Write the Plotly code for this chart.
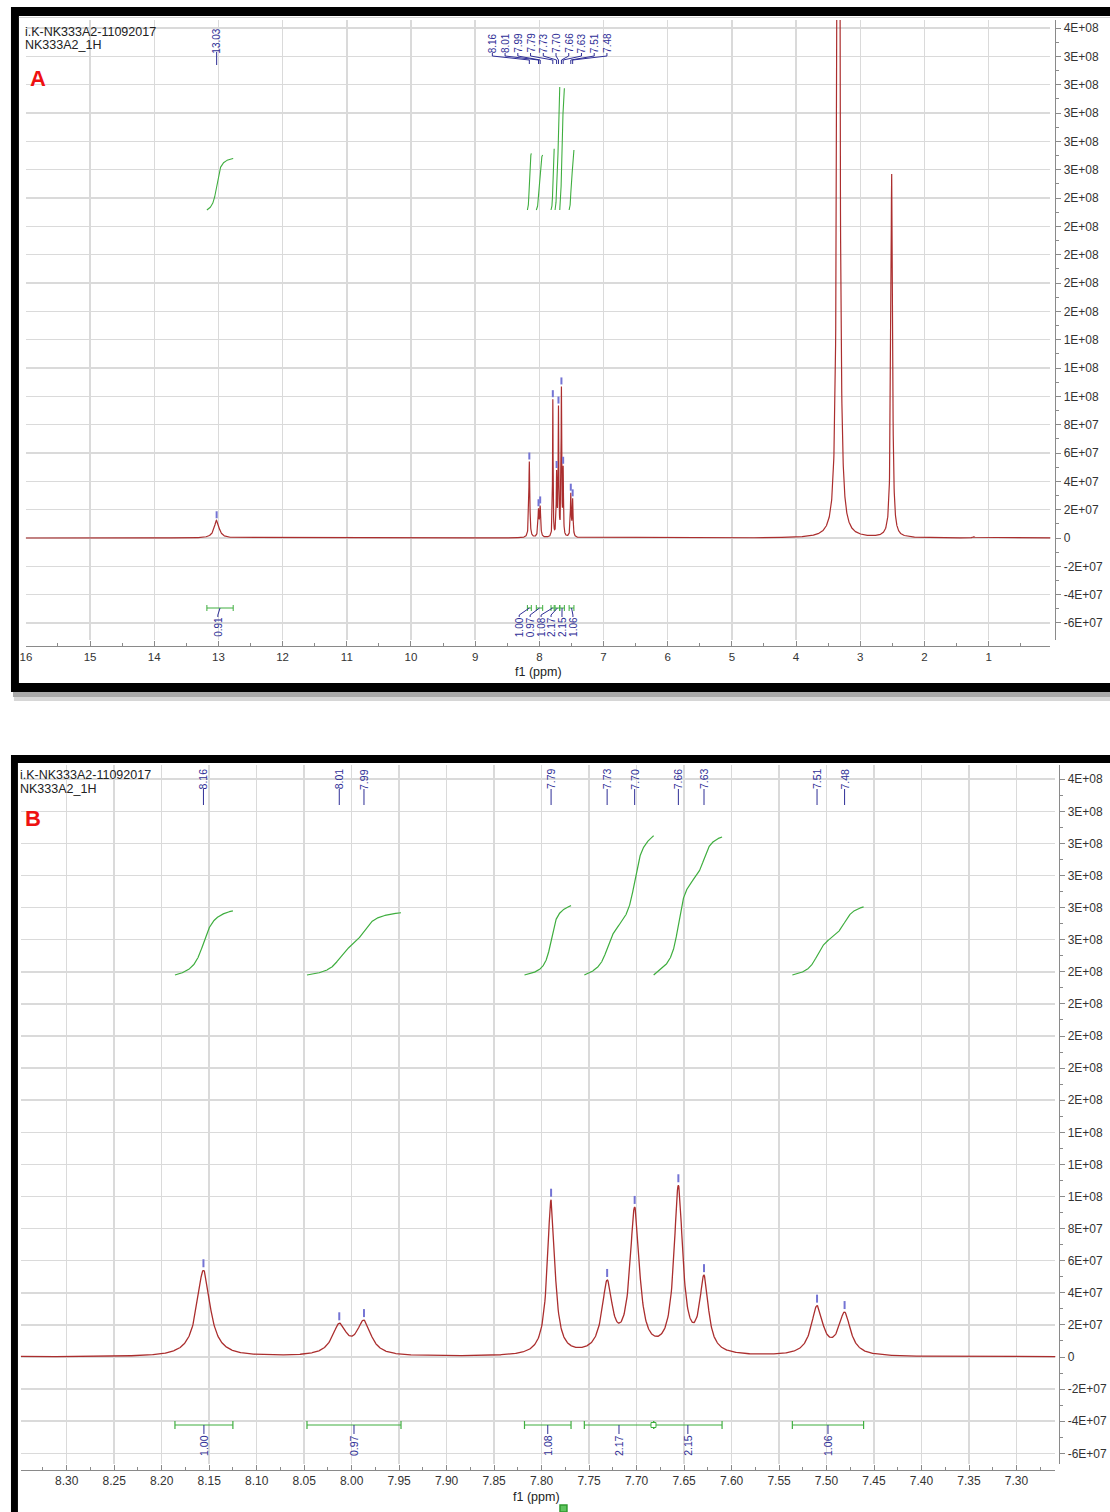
import numpy as np
import plotly.graph_objects as go

FIG_W, FIG_H = 1110, 1512

# ---------------- spectrum data ----------------
# picked signals: chemical shift (ppm), apex intensity, line width (FWHM, ppm)
signal_ppm = [13.028, 8.156, 8.013, 7.987, 7.790, 7.731, 7.702, 7.656, 7.629, 7.510, 7.481]
signal_height = [1.25e7, 5.4e7, 2.1e7, 2.3e7, 9.8e7, 4.8e7, 9.35e7, 1.07e8, 5.1e7, 3.2e7, 2.8e7]
signal_fwhm = [0.090, 0.017, 0.018, 0.018, 0.0095, 0.013, 0.012, 0.011, 0.011, 0.015, 0.015]

# solvent / water lines (not picked)
solvent_ppm = [3.34, 2.73, 2.51, 1.23]
solvent_height = [1.0e9, 2.0e6, 2.57e8, 1.0e6]
solvent_fwhm = [0.035, 0.030, 0.030, 0.030]

# integral regions (ppm) and normalised integrals
integral_from = [13.18, 8.186, 8.047, 7.818, 7.755, 7.682, 7.536]
integral_to = [12.77, 8.125, 7.948, 7.769, 7.682, 7.610, 7.461]
integral_value = [0.91, 1.00, 0.97, 1.08, 2.17, 2.15, 1.06]

# intensity axis ticks
y_tick_vals = [-6e7, -4e7, -2e7, 0, 2e7, 4e7, 6e7, 8e7, 1.0e8, 1.2e8, 1.4e8, 1.6e8, 1.8e8,
               2.0e8, 2.2e8, 2.4e8, 2.6e8, 2.8e8, 3.0e8, 3.2e8, 3.4e8, 3.6e8]
y_tick_text = ["-6E+07", "-4E+07", "-2E+07", "0", "2E+07", "4E+07", "6E+07", "8E+07",
               "1E+08", "1E+08", "1E+08", "2E+08", "2E+08", "2E+08", "2E+08", "2E+08",
               "3E+08", "3E+08", "3E+08", "3E+08", "3E+08", "4E+08"]

# shift axis ticks
a_tick_vals = [1, 2, 3, 4, 5, 6, 7, 8, 9, 10, 11, 12, 13, 14, 15, 16]
a_tick_text = ["1", "2", "3", "4", "5", "6", "7", "8", "9", "10", "11", "12", "13", "14", "15", "16"]
b_tick_vals = [7.30, 7.35, 7.40, 7.45, 7.50, 7.55, 7.60, 7.65, 7.70, 7.75, 7.80,
               7.85, 7.90, 7.95, 8.00, 8.05, 8.10, 8.15, 8.20, 8.25, 8.30]
b_tick_text = ["7.30", "7.35", "7.40", "7.45", "7.50", "7.55", "7.60", "7.65", "7.70", "7.75", "7.80",
               "7.85", "7.90", "7.95", "8.00", "8.05", "8.10", "8.15", "8.20", "8.25", "8.30"]

# ---------------- colours / geometry ----------------
SPEC = "#ab2e2e"
INTEG = "#3fae3f"
PICK = "#2e2e96"
TICKMARK = "#7474d4"
GRID = "#dadada"
AXIS = "#8a8a8a"
FONT = "Liberation Sans"

# panel A (full spectrum) pixel geometry
A_L, A_R, A_T, A_B = 20, 1050, 20, 640
A_PPM0, A_PXPPM = 16.0, 64.53
A_ZERO, A_PX2E7 = 538.0, 28.33
# panel B (aromatic expansion) pixel geometry
B_L, B_R, B_T, B_B = 15, 1055, 765, 1464
B_REFPPM, B_REFPX, B_PXPPM = 8.30, 61.0, 955.0
B_ZERO, B_PX2E7 = 1357.0, 32.1


def a_ppm(px):
    return A_PPM0 - (px - A_L) / A_PXPPM


def b_ppm(px):
    return B_REFPPM - (px - B_REFPX) / B_PXPPM


def a_val(py):
    return (A_ZERO - py) / A_PX2E7 * 2e7


def b_val(py):
    return (B_ZERO - py) / B_PX2E7 * 2e7


def yp(py):
    return 1 - py / FIG_H


def xp(px):
    return px / FIG_W


# ---------------- lineshape ----------------
all_ppm = np.array(signal_ppm + solvent_ppm)
all_h = np.array(signal_height + solvent_height)
all_w = np.array(signal_fwhm + solvent_fwhm)


def lorentz(x, c, w):
    g = w / 2.0
    return g * g / ((x - c) ** 2 + g * g)


# amplitudes so that the summed curve reaches each apex height
M = lorentz(all_ppm[:, None], all_ppm[None, :], all_w[None, :])
amp = np.linalg.solve(M, all_h)


def spectrum(x):
    x = np.asarray(x, dtype=float)
    out = np.zeros_like(x)
    for a, c, w in zip(amp, all_ppm, all_w):
        out += a * lorentz(x, c, w)
    return out


ppm_a = np.unique(np.concatenate([np.arange(0.0, 16.3, 0.002), all_ppm]))
ppm_b = np.unique(np.concatenate([np.arange(7.20, 8.40, 0.0005), all_ppm]))
int_a = spectrum(ppm_a)
int_b = spectrum(ppm_b)

fig = go.Figure()
fig.add_trace(go.Scatter(x=ppm_a, y=int_a, xaxis="x", yaxis="y", mode="lines",
                         line=dict(color=SPEC, width=1.2), hoverinfo="skip", showlegend=False))
fig.add_trace(go.Scatter(x=ppm_b, y=int_b, xaxis="x2", yaxis="y2", mode="lines",
                         line=dict(color=SPEC, width=1.3), hoverinfo="skip", showlegend=False))

# integral curves
A_INT_BASE, B_INT_BASE, INT_SCALE = a_val(210), b_val(975), 4.0e7
for k, (f, t, v) in enumerate(zip(integral_from, integral_to, integral_value)):
    xs = np.linspace(f, t, 400)
    ys = spectrum(xs)
    cum = np.concatenate([[0], np.cumsum(0.5 * (ys[1:] + ys[:-1]) * np.abs(np.diff(xs)))])
    cum = cum / cum[-1]
    fig.add_trace(go.Scatter(x=xs, y=A_INT_BASE + v * INT_SCALE * cum, xaxis="x", yaxis="y",
                             mode="lines", line=dict(color=INTEG, width=1.1),
                             hoverinfo="skip", showlegend=False))
    if k > 0:
        fig.add_trace(go.Scatter(x=xs, y=B_INT_BASE + v * INT_SCALE * cum, xaxis="x2", yaxis="y2",
                                 mode="lines", line=dict(color=INTEG, width=1.2),
                                 hoverinfo="skip", showlegend=False))

# invisible carriers so the tick axes are drawn
fig.add_trace(go.Scatter(x=[8], y=[0], xaxis="x3", yaxis="y3", mode="markers",
                         marker=dict(opacity=0), hoverinfo="skip", showlegend=False))
fig.add_trace(go.Scatter(x=[7.8], y=[0], xaxis="x4", yaxis="y4", mode="markers",
                         marker=dict(opacity=0), hoverinfo="skip", showlegend=False))

shapes = []
annotations = []

# ---------------- frames ----------------
shapes += [
    dict(type="rect", xref="paper", yref="paper", x0=xp(8), x1=xp(1125), y0=yp(692), y1=yp(701),
         fillcolor="#d6d6d6", line=dict(width=0), layer="below"),
    dict(type="rect", xref="paper", yref="paper", x0=xp(7), x1=xp(1125), y0=yp(692), y1=yp(697),
         fillcolor="#a8a8a8", line=dict(width=0), layer="below"),
    dict(type="rect", xref="paper", yref="paper", x0=xp(5), x1=xp(1125), y0=yp(692), y1=yp(7),
         fillcolor="black", line=dict(width=0), layer="below"),
    dict(type="rect", xref="paper", yref="paper", x0=xp(13), x1=xp(1125), y0=yp(683), y1=yp(16),
         fillcolor="white", line=dict(width=0), layer="below"),
    dict(type="rect", xref="paper", yref="paper", x0=xp(5), x1=xp(1125), y0=yp(1600), y1=yp(755),
         fillcolor="black", line=dict(width=0), layer="below"),
    dict(type="rect", xref="paper", yref="paper", x0=xp(12), x1=xp(1125), y0=yp(1600), y1=yp(763),
         fillcolor="white", line=dict(width=0), layer="below"),
    dict(type="line", xref="paper", yref="paper", x0=xp(13), x1=xp(1125), y0=yp(17.5), y1=yp(17.5),
         line=dict(color="#d4d4d4", width=1), layer="below"),
]

# ---------------- titles ----------------
for (x0, y1, y2, ly, lab) in [(17, 32, 45, 78, "A"), (12, 775, 789, 818, "B")]:
    annotations.append(dict(xref="paper", yref="paper", x=xp(x0), y=yp(y1), text="i.K-NK333A2-11092017",
                            showarrow=False, xanchor="left", yanchor="middle",
                            font=dict(family=FONT, size=12.5, color="#222")))
    annotations.append(dict(xref="paper", yref="paper", x=xp(x0), y=yp(y2), text="NK333A2_1H",
                            showarrow=False, xanchor="left", yanchor="middle",
                            font=dict(family=FONT, size=12.5, color="#222")))
    annotations.append(dict(xref="paper", yref="paper", x=xp(x0 + 5), y=yp(ly), text="<b>%s</b>" % lab,
                            showarrow=False, xanchor="left", yanchor="middle",
                            font=dict(family=FONT, size=22, color="#ee1111")))

for lab_y, cx in [(672, 535), (1497, 533)]:
    annotations.append(dict(xref="paper", yref="paper", x=xp(cx), y=yp(lab_y), text="f1 (ppm)",
                            showarrow=False, xanchor="center", yanchor="middle",
                            font=dict(family=FONT, size=12.5, color="#222")))


def label(xref, x, py, text, size=10):
    annotations.append(dict(xref=xref, yref="paper", x=x, y=yp(py), text=text, textangle=-90,
                            showarrow=False, xanchor="center", yanchor="middle",
                            font=dict(family=FONT, size=size, color=PICK)))


def seg(xref, x0, py0, x1, py1, color=PICK, width=1):
    shapes.append(dict(type="line", xref=xref, yref="paper", x0=x0, x1=x1, y0=yp(py0), y1=yp(py1),
                       line=dict(color=color, width=width), layer="above"))


# ---------------- peak picking labels ----------------
# panel A: 13.03 alone, aromatic cluster fanned out
label("x", signal_ppm[0], 41, "%.2f" % signal_ppm[0])
seg("x", signal_ppm[0], 52, signal_ppm[0], 65)
for i, p in enumerate(signal_ppm[1:]):
    lx = a_ppm(489 + i * 12.8)
    label("x", lx, 43, "%.2f" % p)
    seg("x", lx, 53, lx, 56)
    seg("x", lx, 56, p, 60)
    seg("x", p, 60, p, 64)

# panel B: labels at their shifts
for p in signal_ppm[1:]:
    label("x2", p, 779, "%.2f" % p, size=10.5)
    seg("x2", p, 789, p, 805)

# apex markers
for p, h in zip(signal_ppm, signal_height):
    u = 2e7 / A_PX2E7
    shapes.append(dict(type="line", xref="x", yref="y", x0=p, x1=p, y0=h + 2 * u, y1=h + 9 * u,
                       line=dict(color=TICKMARK, width=2), layer="above"))
for p, h in zip(signal_ppm[1:], signal_height[1:]):
    u = 2e7 / B_PX2E7
    shapes.append(dict(type="line", xref="x2", yref="y2", x0=p, x1=p, y0=h + 3 * u, y1=h + 11 * u,
                       line=dict(color=TICKMARK, width=2), layer="above"))

# ---------------- integral brackets and values ----------------
a_int_label_px = [213, 516, 527, 538, 548, 559, 570]
for k, (f, t, v) in enumerate(zip(integral_from, integral_to, integral_value)):
    c = 0.5 * (f + t)
    # panel A
    seg("x", f, 608, t, 608, INTEG, 1)
    seg("x", f, 605, f, 611, INTEG, 1)
    seg("x", t, 605, t, 611, INTEG, 1)
    lx = a_ppm(a_int_label_px[k])
    seg("x", c, 608, lx, 615)
    seg("x", lx, 615, lx, 617)
    label("x", lx, 627, "%.2f" % v)
    # panel B
    if k > 0:
        seg("x2", f, 1425, t, 1425, INTEG, 1.2)
        seg("x2", f, 1421, f, 1429, INTEG, 1.2)
        seg("x2", t, 1421, t, 1429, INTEG, 1.2)
        seg("x2", c, 1425, c, 1434)
        label("x2", c, 1445, "%.2f" % v, size=10.5)

# small handles
shapes.append(dict(type="rect", xref="x2", yref="paper", x0=b_ppm(648.5), x1=b_ppm(653.5),
                   y0=yp(1427.5), y1=yp(1422.5), line=dict(color=INTEG, width=1), fillcolor="white",
                   layer="above"))
shapes.append(dict(type="rect", xref="paper", yref="paper", x0=xp(557), x1=xp(564),
                   y0=yp(1512), y1=yp(1505), line=dict(color="#2f9a2f", width=1.5), fillcolor="#5fc45f",
                   layer="above"))

# ---------------- axes ----------------
grid_common = dict(showgrid=True, gridcolor=GRID, gridwidth=1.5, zeroline=False, showline=False,
                   showticklabels=False, ticks="", fixedrange=True)
tick_font = dict(family=FONT, size=12, color="#333")

a_minor_x = [v + 0.5 for v in range(0, 16)]
b_minor_x = [round(7.275 + 0.05 * i, 3) for i in range(22)]
y_minor = [v + 1e7 for v in y_tick_vals[:-1]] + [3.7e8]

layout_axes = dict(
    xaxis=dict(domain=[xp(A_L), xp(A_R)], range=[A_PPM0, a_ppm(A_R)], anchor="y",
               tickmode="array", tickvals=a_tick_vals, **grid_common),
    yaxis=dict(domain=[yp(A_B), yp(A_T)], range=[a_val(A_B), a_val(A_T)], anchor="x",
               tickmode="array", tickvals=y_tick_vals, **grid_common),
    xaxis2=dict(domain=[xp(B_L), xp(B_R)], range=[b_ppm(B_L), b_ppm(B_R)], anchor="y2",
                tickmode="array", tickvals=b_tick_vals, **grid_common),
    yaxis2=dict(domain=[yp(B_B), yp(B_T)], range=[b_val(B_B), b_val(B_T)], anchor="x2",
                tickmode="array", tickvals=y_tick_vals, **grid_common),
    xaxis3=dict(overlaying="x", anchor="free", position=yp(646), side="bottom",
                range=[A_PPM0, a_ppm(A_R)], tickmode="array", tickvals=a_tick_vals, ticktext=a_tick_text,
                ticks="inside", ticklen=5, tickcolor=AXIS, showline=True, linecolor=AXIS, linewidth=1,
                showgrid=False, zeroline=False, tickfont=dict(family=FONT, size=11.5, color="#333"),
                fixedrange=True,
                minor=dict(tickvals=a_minor_x, ticks="inside", ticklen=3, tickcolor=AXIS, showgrid=False)),
    yaxis3=dict(overlaying="y", anchor="free", position=xp(1055), side="right",
                range=[a_val(A_B), a_val(A_T)], tickmode="array", tickvals=y_tick_vals, ticktext=y_tick_text,
                ticks="outside", ticklen=5, tickcolor=AXIS, showline=True, linecolor=AXIS, linewidth=1,
                showgrid=False, zeroline=False, tickfont=tick_font, fixedrange=True,
                minor=dict(tickvals=y_minor, ticks="outside", ticklen=3, tickcolor=AXIS, showgrid=False)),
    xaxis4=dict(overlaying="x2", anchor="free", position=yp(1470), side="bottom",
                range=[b_ppm(B_L), b_ppm(B_R)], tickmode="array", tickvals=b_tick_vals, ticktext=b_tick_text,
                ticks="inside", ticklen=5, tickcolor=AXIS, showline=True, linecolor=AXIS, linewidth=1,
                showgrid=False, zeroline=False, tickfont=dict(family=FONT, size=12, color="#333"),
                fixedrange=True,
                minor=dict(tickvals=b_minor_x, ticks="inside", ticklen=3, tickcolor=AXIS, showgrid=False)),
    yaxis4=dict(overlaying="y2", anchor="free", position=xp(1059), side="right",
                range=[b_val(B_B), b_val(B_T)], tickmode="array", tickvals=y_tick_vals, ticktext=y_tick_text,
                ticks="outside", ticklen=5, tickcolor=AXIS, showline=True, linecolor=AXIS, linewidth=1,
                showgrid=False, zeroline=False, tickfont=tick_font, fixedrange=True,
                minor=dict(tickvals=y_minor, ticks="outside", ticklen=3, tickcolor=AXIS, showgrid=False)),
)

fig.update_layout(
    width=FIG_W, height=FIG_H,
    margin=dict(l=0, r=0, t=0, b=0),
    paper_bgcolor="white", plot_bgcolor="rgba(0,0,0,0)",
    showlegend=False,
    shapes=shapes, annotations=annotations,
    font=dict(family=FONT, size=11, color="#333"),
    **layout_axes,
)

fig.write_html("out.html", config=dict(displayModeBar=False, staticPlot=True),
               post_script="document.body.style.margin='0';document.body.style.overflow='hidden';")
